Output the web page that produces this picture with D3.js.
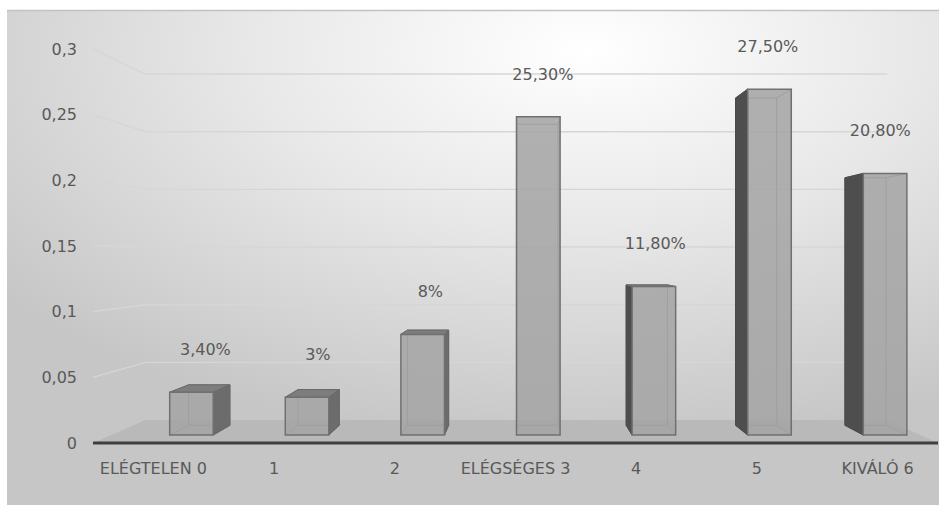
<!DOCTYPE html>
<html><head><meta charset="utf-8">
<script src="https://cdn.jsdelivr.net/npm/d3@7"></script>
<style>html,body{margin:0;padding:0;background:#fff;overflow:hidden}</style>
</head><body>
<svg id="c" width="942" height="505"></svg>
<script>
const categories = ["ELÉGTELEN 0","1","2","ELÉGSÉGES 3","4","5","KIVÁLÓ 6"];
const values = [0.034,0.03,0.08,0.253,0.118,0.275,0.208];
const valueLabels = ["3,40%","3%","8%","25,30%","11,80%","27,50%","20,80%"];
const yTicks = [0,0.05,0.1,0.15,0.2,0.25,0.3];
const yTickLabels = ["0","0,05","0,1","0,15","0,2","0,25","0,3"];

const svg = d3.select("#c");
const FONT = "'DejaVu Sans', sans-serif";
const TXT = "#595959";

// front plane scales
const y = d3.scaleLinear().domain([0, 0.3]).range([443, 49]);
const floorL = 93, floorR = 938;
const x = d3.scalePoint().domain(categories).range([floorL, floorR]).padding(0.5);
const barShift = 23.5, barHalf = 22.75;
// perspective
const VX = 522, VY = 254.5, DEPTH = 0.122;
const zBarFront = 0.347, zBarBack = 0.77;
function P(X, v, z) { const f = 1 - DEPTH * z; return [VX + (X - VX) * f, VY + (y(v) - VY) * f]; }
const poly = pts => pts.map(p => p.join(",")).join(" ");

// background
const defs = svg.append("defs");
const rg = defs.append("radialGradient").attr("id", "bg").attr("cx", 0.62).attr("cy", 0.08).attr("r", 0.8).attr("fx", 0.62).attr("fy", 0.08);
rg.append("stop").attr("offset", 0).attr("stop-color", "#ffffff");
rg.append("stop").attr("offset", 0.45).attr("stop-color", "#e8e8e8");
rg.append("stop").attr("offset", 1).attr("stop-color", "#c6c6c6");
svg.append("rect").attr("x", 7).attr("y", 10).attr("width", 932).attr("height", 495).attr("fill", "url(#bg)");
svg.append("line").attr("x1", 7).attr("x2", 939).attr("y1", 10.5).attr("y2", 10.5).attr("stroke", "#c2c2c2").attr("stroke-width", 1.5);

// gridlines: left wall + back wall
const grid = svg.append("g").attr("fill", "none").attr("stroke", "#d6d6d6").attr("stroke-width", 1.4);
yTicks.filter(t => t > 0).forEach(t => {
  grid.append("polyline").attr("points", poly([P(floorL, t, 0), P(floorL, t, 1), P(floorR, t, 1)]));
});

// floor
svg.append("polygon").attr("points", poly([P(floorL, 0, 0), P(floorR, 0, 0), P(floorR, 0, 1), P(floorL, 0, 1)]))
  .attr("fill", "#b9b9b9");

// bars
const bars = svg.append("g");
categories.forEach((c, i) => {
  const v = values[i];
  const X = x(c) + barShift;
  const L = X - barHalf, R = X + barHalf;
  const fbl = P(L, 0, zBarFront), fbr = P(R, 0, zBarFront), ftl = P(L, v, zBarFront), ftr = P(R, v, zBarFront);
  const bbl = P(L, 0, zBarBack), bbr = P(R, 0, zBarBack), btl = P(L, v, zBarBack), btr = P(R, v, zBarBack);
  const g = bars.append("g");
  // hidden edges (visible through translucent front)
  const edges = [[bbl, bbr], [bbl, btl], [bbr, btr], [btl, btr], [fbl, bbl], [fbr, bbr], [ftl, btl], [ftr, btr]];
  edges.forEach(e => g.append("line").attr("x1", e[0][0]).attr("y1", e[0][1]).attr("x2", e[1][0]).attr("y2", e[1][1])
    .attr("stroke", "#7a7a7a").attr("stroke-width", 1));
  // visible side
  if (bbr[0] > fbr[0] + 0.5) {
    g.append("polygon").attr("points", poly([fbr, bbr, btr, ftr])).attr("fill", "#6c6c6c").attr("stroke", "#666").attr("stroke-width", 1);
  }
  if (bbl[0] < fbl[0] - 0.5) {
    g.append("polygon").attr("points", poly([fbl, bbl, btl, ftl])).attr("fill", "#4e4e4e").attr("stroke", "#4a4a4a").attr("stroke-width", 1);
  }
  // top
  if (btl[1] < ftl[1] - 0.5) {
    g.append("polygon").attr("points", poly([ftl, ftr, btr, btl])).attr("fill", "#7d7d7d").attr("stroke", "#6a6a6a").attr("stroke-width", 1);
  }
  // front
  g.append("polygon").attr("points", poly([fbl, fbr, ftr, ftl])).attr("fill", "#a4a4a4").attr("fill-opacity", 0.86)
    .attr("stroke", "#707070").attr("stroke-width", 1.5);
});

// floor front edge
svg.append("line").attr("x1", floorL).attr("x2", floorR).attr("y1", y(0)).attr("y2", y(0))
  .attr("stroke", "#3f3f3f").attr("stroke-width", 3);

// y labels
svg.append("g").selectAll("text").data(yTicks).join("text")
  .attr("x", 77).attr("y", d => y(d)).attr("dy", "0.36em").attr("text-anchor", "end")
  .attr("font-family", FONT).attr("font-size", 16).attr("fill", TXT)
  .text((d, i) => yTickLabels[i]);

// category labels
svg.append("g").selectAll("text").data(categories).join("text")
  .attr("x", d => x(d)).attr("y", 468).attr("dy", "0.36em").attr("text-anchor", "middle")
  .attr("font-family", FONT).attr("font-size", 16).attr("fill", TXT)
  .text(d => d);

// data labels
const zMid = (zBarFront + zBarBack) / 2;
svg.append("g").selectAll("text").data(categories).join("text")
  .attr("x", (d, i) => P(x(d) + barShift, values[i], zMid)[0] + 5)
  .attr("y", (d, i) => P(x(d) + barShift, values[i], zBarFront)[1] - 43)
  .attr("dy", "0.36em").attr("text-anchor", "middle")
  .attr("font-family", FONT).attr("font-size", 16).attr("fill", TXT)
  .text((d, i) => valueLabels[i]);
</script>
</body></html>
